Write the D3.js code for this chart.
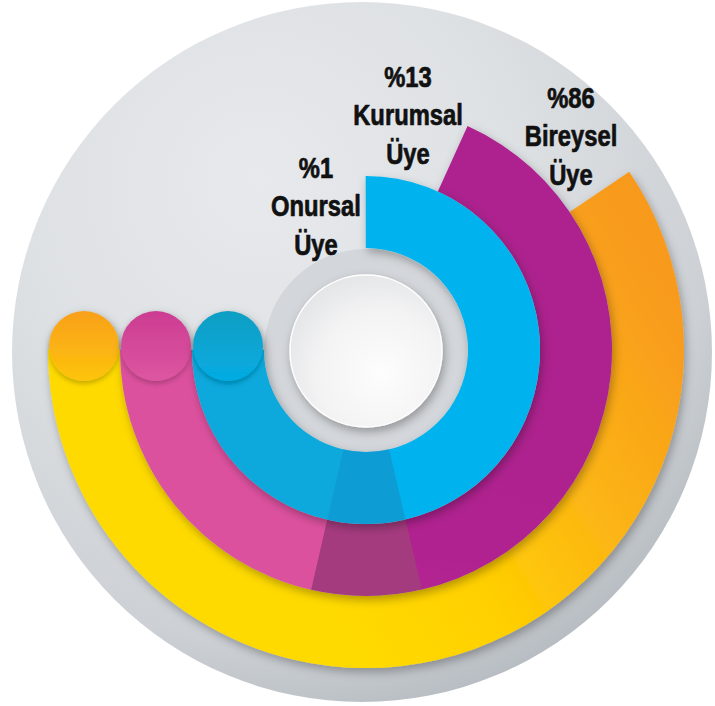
<!DOCTYPE html>
<html><head><meta charset="utf-8">
<script src="https://cdn.jsdelivr.net/npm/d3@7"></script>
<style>
html,body{margin:0;padding:0;background:#fff;}
svg{display:block;}
</style></head>
<body>
<svg id="chart" width="715" height="706"></svg>
<script>
// ---- data ----
const categories = ["Onursal Üye", "Kurumsal Üye", "Bireysel Üye"];
const values = [1, 13, 86];
const percentLabels = ["%1", "%13", "%86"];
const nameLines = [["Onursal", "Üye"], ["Kurumsal", "Üye"], ["Bireysel", "Üye"]];

// ---- layout ----
const W = 715, H = 706;
const cx = 366, cy = 350;
const svg = d3.select("#chart");
const defs = svg.append("defs");
const deg = Math.PI / 180;

// radius per ring (band scale over categories)
const rScale = d3.scaleBand().domain(categories).range([102, 318]).padding(0);
// decorative start angle of each ring
const startAngle = d3.scaleOrdinal().domain(categories).range([0, 24.5 * deg, 56 * deg]);
const endAngle = 270 * deg;
const foldA = 167 * deg, foldB = 193 * deg;

// ---- defs ----
function linGrad(id, x1, y1, x2, y2, stops, units) {
  const g = defs.append("linearGradient").attr("id", id)
    .attr("gradientUnits", units || "userSpaceOnUse")
    .attr("x1", x1).attr("y1", y1).attr("x2", x2).attr("y2", y2);
  stops.forEach(s => g.append("stop").attr("offset", s[0]).attr("stop-color", s[1]));
}
const bg = defs.append("radialGradient").attr("id", "bgGrad")
  .attr("cx", "38%").attr("cy", "30%").attr("r", "78%").attr("fx", "35%").attr("fy", "25%");
[[0, "#E7E9EC"], [0.45, "#DEE1E4"], [0.8, "#CDD1D5"], [1, "#AFB5BB"]]
  .forEach(s => bg.append("stop").attr("offset", s[0]).attr("stop-color", s[1]));

const knob = defs.append("radialGradient").attr("id", "knobGrad")
  .attr("cx", "60%").attr("cy", "65%").attr("r", "70%");
[[0, "#FDFDFD"], [0.6, "#F3F3F4"], [1, "#E3E4E6"]]
  .forEach(s => knob.append("stop").attr("offset", s[0]).attr("stop-color", s[1]));

linGrad("orangeGrad", 680, 230, 150, 560,
  [[0, "#F7921E"], [0.3, "#F89C1C"], [0.55, "#FCB514"], [0.78, "#FFD000"], [1, "#FFDA00"]]);
linGrad("magRight", 450, 120, 400, 600, [[0, "#AD218E"], [0.6, "#B52892"], [1, "#C43B9B"]]);
linGrad("magLeft", 0, 600, 0, 350, [[0, "#E35EA4"], [1, "#DC519E"]]);
linGrad("cyanRight", 0, 180, 0, 520, [[0, "#00B3EE"], [1, "#02B0EA"]]);
linGrad("cyanLeft", 0, 520, 0, 350, [[0, "#03ADE6"], [1, "#07A8DC"]]);

const capColors = [["#0E9EC3", "#05ACE3"], ["#CC3C92", "#DD56A1"], ["#F8A01B", "#FEC40C"]];
capColors.forEach((c, i) => linGrad("cap" + i, 0, 0, 0, 1, [[0, c[0]], [1, c[1]]], "objectBoundingBox"));

const sh = defs.append("filter").attr("id", "shadow")
  .attr("x", "-20%").attr("y", "-20%").attr("width", "140%").attr("height", "140%");
sh.append("feDropShadow").attr("dx", 2).attr("dy", 4).attr("stdDeviation", 5)
  .attr("flood-color", "#000").attr("flood-opacity", 0.3);
const sh2 = defs.append("filter").attr("id", "capShadow")
  .attr("x", "-30%").attr("y", "-30%").attr("width", "160%").attr("height", "160%");
sh2.append("feDropShadow").attr("dx", 0).attr("dy", 3).attr("stdDeviation", 2.5)
  .attr("flood-color", "#000").attr("flood-opacity", 0.22);

// ---- background disc ----
svg.append("circle").attr("cx", 362).attr("cy", 352).attr("r", 350).attr("fill", "url(#bgGrad)");

// inner grey ring
svg.append("circle").attr("cx", cx).attr("cy", cy + 1).attr("r", 102).attr("fill", "#D3D6DA");

// ---- rings ----
const arc = d3.arc();
const fills = {
  "Onursal Üye": { right: "url(#cyanRight)", fold: "#0A9DD4", left: "url(#cyanLeft)" },
  "Kurumsal Üye": { right: "url(#magRight)", fold: "#A53A7F", left: "url(#magLeft)" },
  "Bireysel Üye": { right: "url(#orangeGrad)", fold: "url(#orangeGrad)", left: "url(#orangeGrad)" }
};

// draw outer ring first so inner rings sit on top
const order = categories.slice().reverse();
order.forEach(cat => {
  const i = categories.indexOf(cat);
  const r0 = rScale(cat), r1 = r0 + rScale.bandwidth();
  const g = svg.append("g").attr("transform", `translate(${cx},${cy})`).attr("filter", "url(#shadow)");
  const pieces = [
    { a0: startAngle(cat), a1: foldA, fill: fills[cat].right },
    { a0: foldA, a1: foldB, fill: fills[cat].fold },
    { a0: foldB, a1: endAngle, fill: fills[cat].left }
  ];
  g.selectAll("path").data(pieces).join("path")
    .attr("d", d => arc({ innerRadius: r0, outerRadius: r1, startAngle: d.a0 - 0.002, endAngle: d.a1 + 0.002 }))
    .attr("fill", d => d.fill);
  // rounded end cap
  const rm = (r0 + r1) / 2;
  g.append("circle")
    .attr("cx", -rm).attr("cy", -4).attr("r", rScale.bandwidth() / 2 - 1)
    .attr("fill", `url(#cap${i})`).attr("filter", "url(#capShadow)");
});

// knob
svg.append("circle").attr("cx", cx).attr("cy", cy + 1).attr("r", 76)
  .attr("fill", "url(#knobGrad)").attr("stroke", "#FFFFFF").attr("stroke-width", 1.5)
  .attr("filter", "url(#shadow)");

// ---- labels ----
const labelX = d3.scaleOrdinal().domain(categories).range([316, 408, 571]);
const labelY = d3.scaleOrdinal().domain(categories).range([178, 87, 108]);
const lineH = 38.5;
const lab = svg.append("g")
  .attr("font-family", "'Liberation Sans','Arimo',Arial,sans-serif")
  .attr("font-weight", "bold").attr("font-size", 29).attr("fill", "#111")
  .attr("stroke", "#111").attr("stroke-width", 0.7).attr("stroke-linejoin", "round")
  .attr("text-anchor", "middle");
categories.forEach((cat, i) => {
  const lines = [percentLabels[i]].concat(nameLines[i]);
  const t = lab.append("text")
    .attr("transform", `translate(${labelX(cat)},${labelY(cat)}) scale(0.82,1)`);
  lines.forEach((l, j) => t.append("tspan").attr("x", 0).attr("y", j * lineH).text(l));
});
</script>
</body></html>
